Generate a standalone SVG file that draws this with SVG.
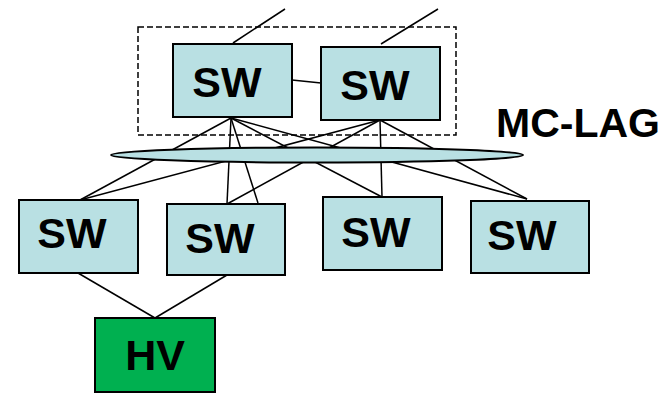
<svg xmlns="http://www.w3.org/2000/svg" width="664" height="393" viewBox="0 0 664 393">
<style>
.sw{fill:#b9e0e3;stroke:#000;stroke-width:2}
.hv{fill:#00b050;stroke:#000;stroke-width:2}
.lbl{font-family:"Liberation Sans",Arial,sans-serif;font-weight:bold;font-size:43px;fill:#000;text-anchor:middle}
.ln{stroke:#000;stroke-width:1.5;fill:none}
</style>
<rect x="138" y="27" width="318" height="108" fill="none" stroke="#000" stroke-width="1.5" stroke-dasharray="6,3"/>
<g id="connectors" class="ln">
<line x1="233" y1="43" x2="285" y2="9"/>
<line x1="381" y1="44" x2="438" y2="9"/>
<line x1="292" y1="80" x2="321" y2="83"/>
<line x1="231" y1="118" x2="80" y2="200"/>
<line x1="231" y1="118" x2="227" y2="204"/>
<line x1="231" y1="118" x2="258" y2="203"/>
<line x1="231" y1="118" x2="382" y2="197"/>
<line x1="231" y1="118" x2="527" y2="199"/>
<line x1="380" y1="120" x2="80" y2="200"/>
<line x1="380" y1="120" x2="227" y2="204"/>
<line x1="380" y1="120" x2="382" y2="197"/>
<line x1="380" y1="120" x2="527" y2="199"/>
<line x1="78" y1="273" x2="155" y2="318"/>
<line x1="227" y1="275" x2="155" y2="318"/>
</g>
<ellipse id="mclag-bundle" cx="317" cy="155" rx="206" ry="7.5" fill="#b9e0e3" stroke="#000" stroke-width="2"/>
<g id="sw1"><rect class="sw" x="173" y="44" width="119" height="73"/><text class="lbl" x="227" y="97">SW</text></g>
<g id="sw2"><rect class="sw" x="321" y="47" width="119" height="73"/><text class="lbl" x="375" y="100">SW</text></g>
<g id="swA"><rect class="sw" x="19" y="200" width="119" height="73"/><text class="lbl" x="72" y="248">SW</text></g>
<g id="swB"><rect class="sw" x="167" y="204" width="118" height="71"/><text class="lbl" x="220" y="253">SW</text></g>
<g id="swC"><rect class="sw" x="323" y="197" width="119" height="73"/><text class="lbl" x="376" y="247">SW</text></g>
<g id="swD"><rect class="sw" x="471" y="201" width="118" height="72"/><text class="lbl" x="522" y="250">SW</text></g>
<g id="hv"><rect class="hv" x="95" y="318" width="120" height="74"/><text class="lbl" x="155" y="370">HV</text></g>
<g id="mclag-label"><text x="496" y="137" font-family="'Liberation Sans',Arial,sans-serif" font-weight="bold" font-size="41" fill="#000">MC-LAG</text></g>
</svg>
